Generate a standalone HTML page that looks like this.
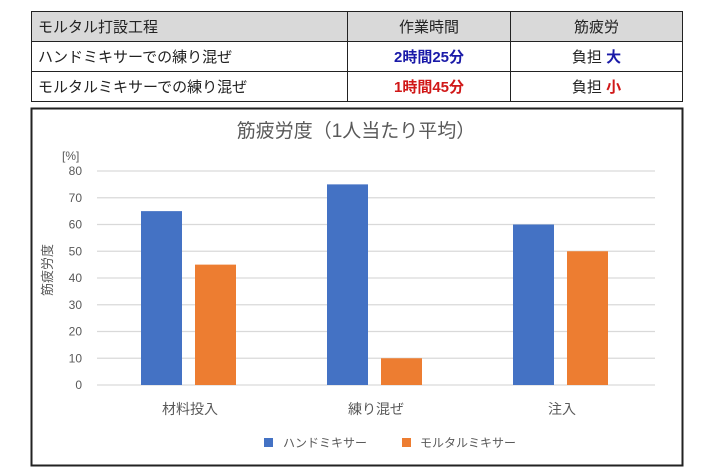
<!DOCTYPE html>
<html><head><meta charset="utf-8"><style>
body{margin:0;width:710px;height:474px;background:#fff;font-family:"Liberation Sans","Noto Sans CJK JP",sans-serif;position:relative;overflow:hidden}
table{position:absolute;left:31px;top:11px;border-collapse:collapse;width:652px}
td{border:1.5px solid #222;height:29px;font-size:15px;color:#222;padding:0 6px}
tr.h td{background:#d9d9d9}
.c{text-align:center}
</style></head><body>
<table>
<tr class="h"><td style="width:303px">モルタル打設工程</td><td class="c" style="width:150px">作業時間</td><td class="c">筋疲労</td></tr>
<tr><td>ハンドミキサーでの練り混ぜ</td><td class="c" style="color:#1a1aa8;font-weight:bold">2時間25分</td><td class="c">負担 <b style="color:#1a1aa8">大</b></td></tr>
<tr><td>モルタルミキサーでの練り混ぜ</td><td class="c" style="color:#d01818;font-weight:bold">1時間45分</td><td class="c">負担 <b style="color:#d01818">小</b></td></tr>
</table>
<svg id="chart" width="710" height="474" style="position:absolute;left:0;top:0" font-family="Liberation Sans, Noto Sans CJK JP, sans-serif">
<rect x="31.5" y="108.5" width="651" height="357" fill="none" stroke="#222" stroke-width="2"/>
<text x="356" y="137" text-anchor="middle" font-size="19" fill="#595959">筋疲労度（1人当たり平均）</text>
<text x="62" y="160" font-size="12" fill="#595959">[%]</text>
<text transform="translate(52,270) rotate(-90)" text-anchor="middle" font-size="13" fill="#595959">筋疲労度</text>
<g id="plot"></g>
<rect x="264" y="438" width="9" height="9" fill="#4472c4"/>
<text x="283" y="447" font-size="12" fill="#595959">ハンドミキサー</text>
<rect x="402" y="438" width="9" height="9" fill="#ed7d31"/>
<text x="420" y="447" font-size="12" fill="#595959">モルタルミキサー</text>
</svg>
<script>
const categories=["材料投入","練り混ぜ","注入"];
const handValues=[65,75,60];
const mortarValues=[45,10,50];
const yTicks=[0,10,20,30,40,50,60,70,80];
const NS="http://www.w3.org/2000/svg";
const g=document.getElementById('plot');
const x0=97,x1=655,y0=385,y1=171,yMax=80;
const y=v=>y0-(v/yMax)*(y0-y1);
const band=(x1-x0)/categories.length;
const cx=i=>x0+band*(i+0.5);
function mk(t,a){const e=document.createElementNS(NS,t);for(const k in a)e.setAttribute(k,a[k]);g.appendChild(e);return e;}
yTicks.forEach(t=>{
 const l=mk('line',{x1:x0,x2:x1,y1:y(t),y2:y(t),stroke:'#d9d9d9','stroke-width':1.3});
 
 
 const tx=mk('text',{x:82,y:y(t)+4,'text-anchor':'end','font-size':12,fill:'#595959'});
 tx.textContent=t;
 
 
});
categories.forEach((c,i)=>{
 const b=mk('rect',{x:cx(i)-49,y:y(handValues[i]),width:41,height:y0-y(handValues[i]),fill:'#4472c4'});
 
 
 const o=mk('rect',{x:cx(i)+5,y:y(mortarValues[i]),width:41,height:y0-y(mortarValues[i]),fill:'#ed7d31'});
 
 
 const t=mk('text',{x:cx(i),y:414,'text-anchor':'middle','font-size':14,fill:'#595959'});
 t.textContent=c;
 
 
});
</script>
</body></html>
